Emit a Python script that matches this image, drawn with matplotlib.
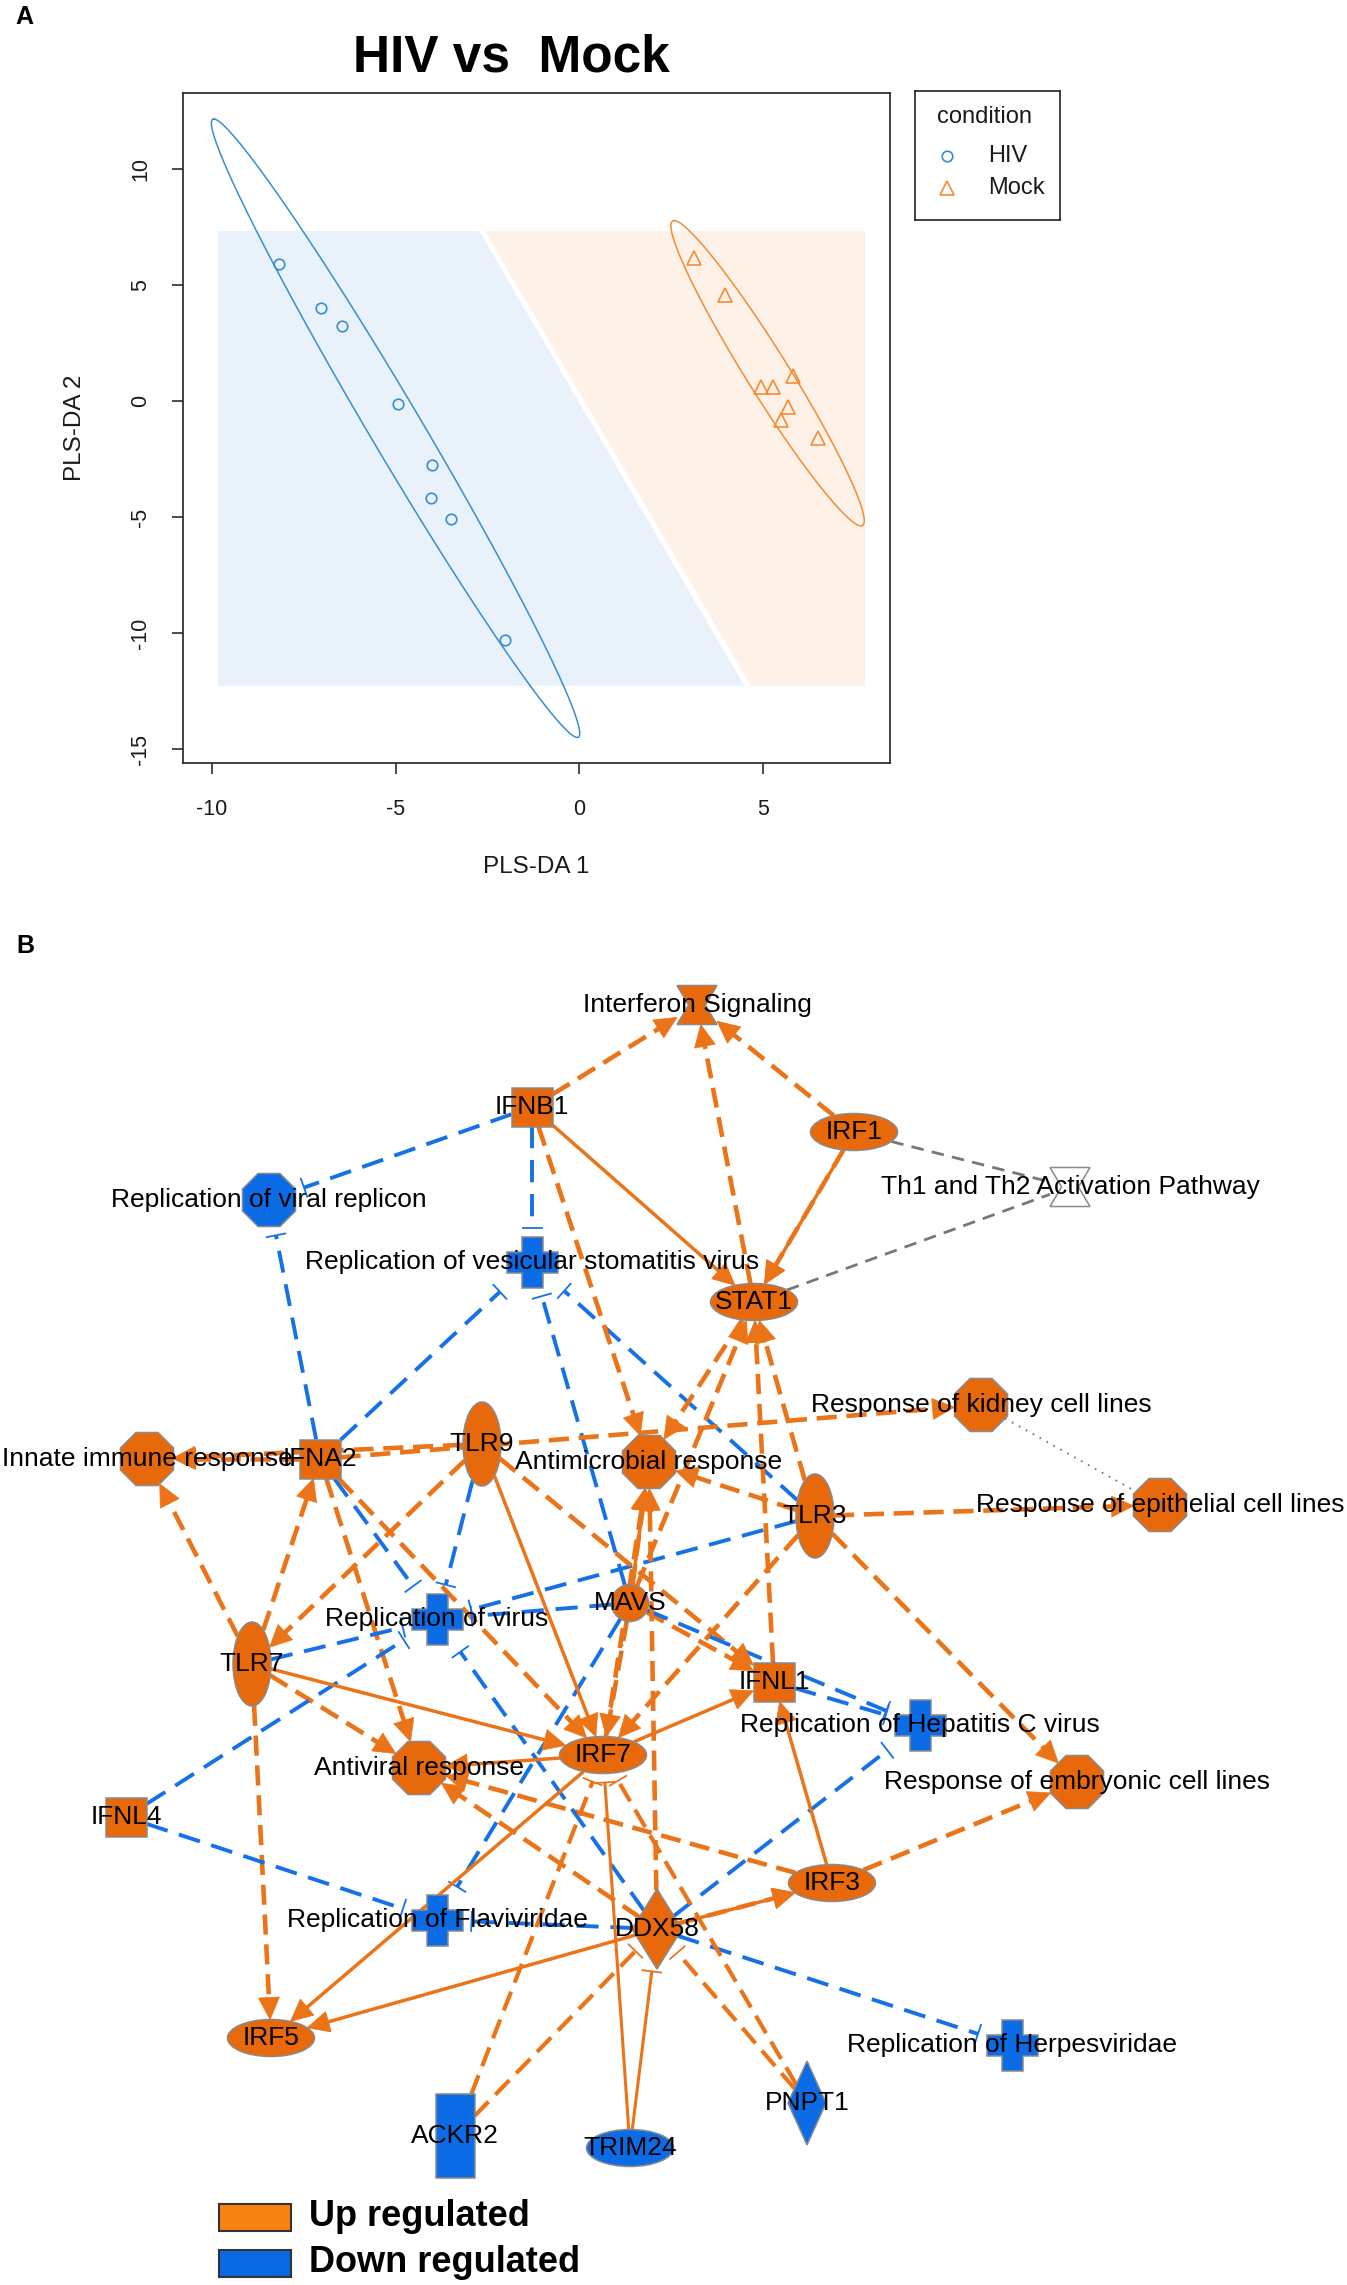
import numpy as np
import matplotlib
matplotlib.use("Agg")
import matplotlib.pyplot as plt
from matplotlib.patches import Polygon, Ellipse, Rectangle, RegularPolygon

plt.rcParams['font.family'] = ['Liberation Sans', 'DejaVu Sans']
plt.rcParams['lines.scale_dashes'] = False

W, H = 1347, 2285

# ---------------- panel A : PLS-DA scores ----------------
hiv_x = [-8.17, -7.03, -6.45, -4.93, -4.00, -4.04, -3.50, -2.02]
hiv_y = [5.90, 4.00, 3.22, -0.13, -2.76, -4.18, -5.07, -10.30]
mock_x = [3.13, 3.97, 4.96, 5.27, 5.84, 5.70, 5.51, 6.51]
mock_y = [6.15, 4.58, 0.59, 0.59, 1.10, -0.25, -0.80, -1.61]

# confidence ellipses: major-axis end points and half width
hiv_ell = {'tip1': (-9.95, 12.16), 'tip2': (-0.05, -14.50), 'half_width': 0.82}
mock_ell = {'tip1': (2.59, 7.78), 'tip2': (7.68, -5.38), 'half_width': 0.68}

# prediction background (class areas)
bg_xrange = (-9.84, 7.79)
bg_yrange = (-12.28, 7.33)
bg_split_top = -2.72      # x of class boundary at top of background
bg_split_bottom = 4.50    # x of class boundary at bottom of background

x_ticks = [-10, -5, 0, 5]
y_ticks = [-15, -10, -5, 0, 5, 10]

col_hiv = '#388ECC'
col_mock = '#F68B33'

# ---------------- panel B : network ----------------
node_keys = ['IFS', 'IFNB1', 'IRF1', 'TH12', 'RVR', 'RVSV', 'STAT1', 'KID', 'INN',
             'IFNA2', 'TLR9', 'AMR', 'TLR3', 'EPI', 'MAVS', 'RV', 'TLR7', 'IFNL1',
             'HCV', 'IRF7', 'AVR', 'EMB', 'IFNL4', 'IRF3', 'DDX58', 'FLAV', 'IRF5',
             'HERP', 'ACKR2', 'TRIM24', 'PNPT1']
node_labels = ['Interferon Signaling', 'IFNB1', 'IRF1', 'Th1 and Th2 Activation Pathway',
               'Replication of viral replicon', 'Replication of vesicular stomatitis virus',
               'STAT1', 'Response of kidney cell lines', 'Innate immune response', 'IFNA2',
               'TLR9', 'Antimicrobial response', 'TLR3', 'Response of epithelial cell lines',
               'MAVS', 'Replication of virus', 'TLR7', 'IFNL1', 'Replication of Hepatitis C virus',
               'IRF7', 'Antiviral response', 'Response of embryonic cell lines', 'IFNL4', 'IRF3',
               'DDX58', 'Replication of Flaviviridae', 'IRF5', 'Replication of Herpesviridae',
               'ACKR2', 'TRIM24', 'PNPT1']
node_reg = ['up', 'up', 'up', 'none', 'down', 'down', 'up', 'up', 'up',
            'up', 'up', 'up', 'up', 'up', 'up', 'down', 'up', 'up',
            'down', 'up', 'up', 'up', 'up', 'up', 'up', 'down', 'up',
            'down', 'down', 'down', 'down']
node_shape = ['hourglass', 'square', 'ellipse', 'hourglass', 'octagon', 'cross', 'ellipse',
              'octagon', 'octagon', 'square', 'vellipse', 'octagon', 'vellipse', 'octagon',
              'circle', 'cross', 'vellipse', 'square', 'cross', 'ellipse', 'octagon', 'octagon',
              'square', 'ellipse', 'diamond', 'cross', 'ellipse', 'cross', 'vrect', 'ellipse',
              'vdiamond']

# layout (figure pixels)
layout = {
    'IFS': (697, 1005), 'IFNB1': (532, 1107), 'IRF1': (854, 1132), 'TH12': (1070, 1187),
    'RVR': (269, 1200), 'RVSV': (532, 1262), 'STAT1': (754, 1302), 'KID': (981, 1405),
    'INN': (147, 1459), 'IFNA2': (320, 1459), 'TLR9': (482, 1444), 'AMR': (649, 1462),
    'TLR3': (815, 1516), 'EPI': (1160, 1505), 'MAVS': (630, 1603), 'RV': (437, 1619),
    'TLR7': (252, 1664), 'IFNL1': (774, 1682), 'HCV': (920, 1725), 'IRF7': (603, 1755),
    'AVR': (419, 1768), 'EMB': (1077, 1782), 'IFNL4': (126, 1817), 'IRF3': (832, 1883),
    'DDX58': (657, 1929), 'FLAV': (437, 1920), 'IRF5': (271, 2038), 'HERP': (1012, 2045),
    'ACKR2': (455, 2136), 'TRIM24': (630, 2148), 'PNPT1': (807, 2103),
}

# sa: solid activation, da: dashed activation, di: dashed inhibition (blue)
# oi / odi: orange solid / dashed inhibition, gd: grey dashed, gt: grey dotted
edges = [
    ('IFNB1', 'IFS', 'da'), ('IRF1', 'IFS', 'da'), ('STAT1', 'IFS', 'da'),
    ('IFNB1', 'RVR', 'di'), ('IFNA2', 'RVR', 'di'),
    ('IFNB1', 'RVSV', 'di'), ('IFNA2', 'RVSV', 'di'), ('MAVS', 'RVSV', 'di'), ('TLR3', 'RVSV', 'di'),
    ('IFNB1', 'STAT1', 'sa'), ('IFNB1', 'AMR', 'da'),
    ('IRF1', 'STAT1', 'sa'), ('IRF1', 'STAT1', 'da'),
    ('IRF1', 'TH12', 'gd'), ('STAT1', 'TH12', 'gd'),
    ('STAT1', 'AMR', 'da'), ('MAVS', 'STAT1', 'da'), ('IFNL1', 'STAT1', 'da'), ('TLR3', 'STAT1', 'da'),
    ('IFNA2', 'KID', 'da'), ('KID', 'EPI', 'gt'),
    ('TLR3', 'EPI', 'da'), ('TLR3', 'EMB', 'da'), ('TLR3', 'AMR', 'da'), ('TLR3', 'IRF7', 'da'),
    ('TLR3', 'RV', 'di'),
    ('IFNA2', 'INN', 'da'), ('TLR9', 'INN', 'da'), ('TLR7', 'INN', 'da'), ('TLR7', 'IFNA2', 'da'),
    ('IFNA2', 'AVR', 'da'), ('IFNA2', 'RV', 'di'), ('IFNA2', 'IRF7', 'da'),
    ('TLR9', 'TLR7', 'da'), ('TLR9', 'RV', 'di'), ('TLR9', 'IRF7', 'sa'), ('TLR9', 'IFNL1', 'da'),
    ('TLR7', 'RV', 'di'), ('TLR7', 'IRF7', 'sa'), ('TLR7', 'AVR', 'da'), ('TLR7', 'IRF5', 'da'),
    ('IFNL4', 'RV', 'di'), ('IFNL4', 'FLAV', 'di'),
    ('MAVS', 'RV', 'di'), ('MAVS', 'AMR', 'sa'), ('MAVS', 'AMR', 'da'), ('MAVS', 'IRF7', 'da'),
    ('MAVS', 'IRF7', 'gt'), ('MAVS', 'FLAV', 'di'), ('MAVS', 'IFNL1', 'da'), ('MAVS', 'HCV', 'di'),
    ('IFNL1', 'HCV', 'di'), ('IRF3', 'IFNL1', 'sa'), ('DDX58', 'HCV', 'di'),
    ('IRF3', 'EMB', 'da'), ('IRF3', 'AVR', 'da'),
    ('DDX58', 'IRF3', 'sa'), ('DDX58', 'IRF3', 'da'), ('DDX58', 'IRF5', 'sa'), ('DDX58', 'AMR', 'da'),
    ('DDX58', 'AVR', 'da'), ('DDX58', 'HERP', 'di'), ('DDX58', 'FLAV', 'di'), ('DDX58', 'RV', 'di'),
    ('IRF7', 'AVR', 'sa'), ('IRF7', 'IRF5', 'sa'), ('IRF7', 'IFNL1', 'sa'), ('IRF7', 'AMR', 'da'),
    ('TRIM24', 'IRF7', 'oi'), ('TRIM24', 'DDX58', 'oi'),
    ('ACKR2', 'IRF7', 'odi'), ('ACKR2', 'DDX58', 'odi'),
    ('PNPT1', 'DDX58', 'odi'), ('PNPT1', 'IRF7', 'odi'),
]

legend_labels = ['Up regulated', 'Down regulated']

# ---------------- styles ----------------
ORANGE = '#E8690C'
BLUE = '#0C6CE6'
LINE_OR = '#EB7418'
LINE_BL = '#1671E6'
GREY = '#777777'
OUTLINE = '#8A8A8A'
fill = {'up': ORANGE, 'down': BLUE, 'none': 'white'}

SIZE = {'octagon': (26.5, 26.5), 'cross': (25.5, 25.5), 'square': (20.5, 19.5),
        'ellipse': (43.5, 18.5), 'vellipse': (19, 42), 'circle': (18.5, 18.5),
        'diamond': (25, 40), 'vdiamond': (19, 42), 'vrect': (19.5, 42), 'hourglass': (20, 19.5)}

DASH_OR = (0, (14.5, 7))
DASH_BL = (0, (16, 8.5))


def ellipse_outline(ell, n=300):
    t1 = np.array(ell['tip1'])
    t2 = np.array(ell['tip2'])
    c = (t1 + t2) / 2
    a = (t1 - t2) / 2
    b = np.array([ell['half_width'], 0.0])
    t = np.linspace(0, 2 * np.pi, n)
    return c[:, None] + a[:, None] * np.cos(t) + b[:, None] * np.sin(t)


def radius(shape, ux, uy):
    hw, hh = SIZE[shape]
    ax_, ay_ = abs(ux) + 1e-9, abs(uy) + 1e-9
    if shape in ('ellipse', 'vellipse', 'circle'):
        return 1.0 / np.sqrt((ax_ / hw) ** 2 + (ay_ / hh) ** 2)
    if shape in ('diamond', 'vdiamond'):
        return 1.0 / (ax_ / hw + ay_ / hh)
    if shape == 'octagon':
        th = np.degrees(np.arctan2(uy, ux))
        d = ((th + 22.5) % 45.0) - 22.5
        return hw / np.cos(np.radians(d))
    return min(hw / ax_, hh / ay_)


def draw_node(ax, shape, x, y, fc):
    hw, hh = SIZE[shape]
    kw = dict(facecolor=fc, edgecolor=OUTLINE, linewidth=1.1, zorder=4)
    if shape in ('ellipse', 'vellipse', 'circle'):
        p = Ellipse((x, y), 2 * hw, 2 * hh, **kw)
    elif shape in ('square', 'vrect'):
        p = Rectangle((x - hw, y - hh), 2 * hw, 2 * hh, **kw)
    elif shape == 'octagon':
        p = RegularPolygon((x, y), 8, radius=hw / np.cos(np.pi / 8), orientation=np.pi / 8, **kw)
    elif shape in ('diamond', 'vdiamond'):
        p = Polygon([(x, y - hh), (x + hw, y), (x, y + hh), (x - hw, y)], closed=True, **kw)
    elif shape == 'cross':
        b = 10.5
        pts = [(-b, -hh), (b, -hh), (b, -b), (hw, -b), (hw, b), (b, b), (b, hh), (-b, hh),
               (-b, b), (-hw, b), (-hw, -b), (-b, -b)]
        p = Polygon([(x + a, y + c) for a, c in pts], closed=True, **kw)
    else:  # hourglass
        w2 = hw * 0.42
        pts = [(-hw, -hh), (hw, -hh), (w2, 0), (hw, hh), (-hw, hh), (-w2, 0)]
        p = Polygon([(x + a, y + c) for a, c in pts], closed=True, **kw)
    ax.add_patch(p)


def draw_edge(ax, p, q, s_shape, d_shape, kind):
    x0, y0 = p
    x1, y1 = q
    L = np.hypot(x1 - x0, y1 - y0)
    ux, uy = (x1 - x0) / L, (y1 - y0) / L
    nx, ny = -uy, ux
    r0 = radius(s_shape, ux, uy)
    r1 = radius(d_shape, ux, uy)
    sx, sy = x0 + ux * r0, y0 + uy * r0
    ex, ey = x1 - ux * r1, y1 - uy * r1

    if kind in ('gd', 'gt'):
        ls = (0, (9, 6)) if kind == 'gd' else (0, (1.2, 4.5))
        lw = 2.0 if kind == 'gd' else 1.4
        ax.plot([sx, ex], [sy, ey], color=GREY, lw=lw, ls=ls, zorder=1, solid_capstyle='butt')
        return

    if kind in ('sa', 'da'):
        hl, hw = 22, 10.5
        lx, ly = ex - ux * hl * 0.7, ey - uy * hl * 0.7
        ls = '-' if kind == 'sa' else DASH_OR
        lw = 2.5 if kind == 'sa' else 3.3
        ax.plot([sx, lx], [sy, ly], color=LINE_OR, lw=lw, ls=ls, zorder=2 if kind == 'sa' else 1,
                solid_capstyle='butt', dash_capstyle='butt')
        bx, by = ex - ux * hl, ey - uy * hl
        head = Polygon([(ex, ey), (bx + nx * hw, by + ny * hw), (bx - nx * hw, by - ny * hw)],
                       closed=True, facecolor=LINE_OR, edgecolor=LINE_OR, lw=0.5, zorder=3)
        ax.add_patch(head)
        return

    # inhibition
    gap = 9
    tx, ty = ex - ux * gap, ey - uy * gap
    if kind == 'di':
        col, ls, lw = LINE_BL, DASH_BL, 2.8
    elif kind == 'oi':
        col, ls, lw = LINE_OR, '-', 2.2
    else:
        col, ls, lw = LINE_OR, DASH_OR, 3.0
    ax.plot([sx, tx], [sy, ty], color=col, lw=lw, ls=ls, zorder=1,
            solid_capstyle='butt', dash_capstyle='butt')
    tb = 9.5
    ax.plot([tx + nx * tb, tx - nx * tb], [ty + ny * tb, ty - ny * tb], color=col, lw=1.3, zorder=2)


fig = plt.figure(figsize=(W / 100, H / 100), dpi=100)

# ---------------- panel A ----------------
axA = fig.add_axes([183 / W, 1 - 763 / H, (890 - 183) / W, (763 - 93) / H])
axA.set_xlim(-10.79, 8.47)
axA.set_ylim(-15.60, 13.28)

x0b, x1b = bg_xrange
y0b, y1b = bg_yrange
gap_bg = 0.17
axA.add_patch(Polygon([(x0b, y1b), (bg_split_top, y1b), (bg_split_bottom, y0b), (x0b, y0b)],
                      closed=True, facecolor='#E9F1FA', edgecolor='none', zorder=0))
axA.add_patch(Polygon([(bg_split_top + gap_bg, y1b), (x1b, y1b), (x1b, y0b),
                       (bg_split_bottom + gap_bg, y0b)],
                      closed=True, facecolor='#FDF1E8', edgecolor='none', zorder=0))

e1 = ellipse_outline(hiv_ell)
e2 = ellipse_outline(mock_ell)
axA.plot(e1[0], e1[1], color=col_hiv, lw=1.1, zorder=2)
axA.plot(e2[0], e2[1], color=col_mock, lw=1.1, zorder=2)
axA.plot(hiv_x, hiv_y, 'o', ms=7.6, mfc='none', mec=col_hiv, mew=1.2, zorder=3)
axA.plot(mock_x, mock_y, '^', ms=10, mfc='none', mec=col_mock, mew=1.2, zorder=3)

axA.set_xticks(x_ticks)
axA.set_xticklabels([str(v) for v in x_ticks])
axA.set_yticks(y_ticks)
axA.set_yticklabels([str(v) for v in y_ticks], rotation=90, va='center')
axA.tick_params(axis='both', length=7.7, width=1.1, labelsize=15.5, colors='#1a1a1a')
axA.tick_params(axis='x', pad=18)
axA.tick_params(axis='y', pad=15)
for sp in axA.spines.values():
    sp.set_linewidth(1.2)
    sp.set_color('#222222')

fig.text(511 / W, 1 - 58 / H, 'HIV vs  Mock', fontsize=37, fontweight='bold',
         ha='center', va='center')
fig.text(536 / W, 1 - 867 / H, 'PLS-DA 1', fontsize=17.5, ha='center', va='center', color='#1a1a1a')
fig.text(75 / W, 1 - 428 / H, 'PLS-DA 2', fontsize=17.5, ha='center', va='center',
         rotation=90, color='#1a1a1a')

axL = fig.add_axes([915 / W, 1 - 220 / H, 145 / W, 129 / H])
axL.set_xlim(0, 145)
axL.set_ylim(129, 0)
axL.set_xticks([])
axL.set_yticks([])
for sp in axL.spines.values():
    sp.set_linewidth(1.2)
    sp.set_color('#222222')
axL.text(70, 26, 'condition', fontsize=17, ha='center', va='center', color='#1a1a1a')
axL.plot([32], [65], 'o', ms=7.6, mfc='none', mec=col_hiv, mew=1.2)
axL.plot([32], [97], '^', ms=10, mfc='none', mec=col_mock, mew=1.2)
axL.text(73, 65, 'HIV', fontsize=17, ha='left', va='center', color='#1a1a1a')
axL.text(73, 97, 'Mock', fontsize=17, ha='left', va='center', color='#1a1a1a')

fig.text(24 / W, 1 - 17 / H, 'A', fontsize=18, fontweight='bold', ha='center', va='center')
fig.text(25 / W, 1 - 946 / H, 'B', fontsize=18, fontweight='bold', ha='center', va='center')

# ---------------- panel B ----------------
axN = fig.add_axes([0, 0, 1, 1])
axN.set_xlim(0, W)
axN.set_ylim(H, 0)
axN.axis('off')
axN.patch.set_alpha(0)

shape_of = dict(zip(node_keys, node_shape))
for s, d, kind in edges:
    draw_edge(axN, layout[s], layout[d], shape_of[s], shape_of[d], kind)

for key, lab, reg, shp in zip(node_keys, node_labels, node_reg, node_shape):
    x, y = layout[key]
    draw_node(axN, shp, x, y, fill[reg])
    axN.text(x, y, lab, fontsize=19, ha='center', va='center', color='black', zorder=6)

leg_cols = ['#F98215', '#0A69E2']
for i, (lab, c) in enumerate(zip(legend_labels, leg_cols)):
    y = 2204 + i * 46
    axN.add_patch(Rectangle((219, y), 72, 27, facecolor=c, edgecolor='#333333', lw=1.5, zorder=4))
    axN.text(309, y + 13, lab, fontsize=26, fontweight='bold', ha='left', va='center', zorder=6)

fig.savefig('out.png', dpi=100)
